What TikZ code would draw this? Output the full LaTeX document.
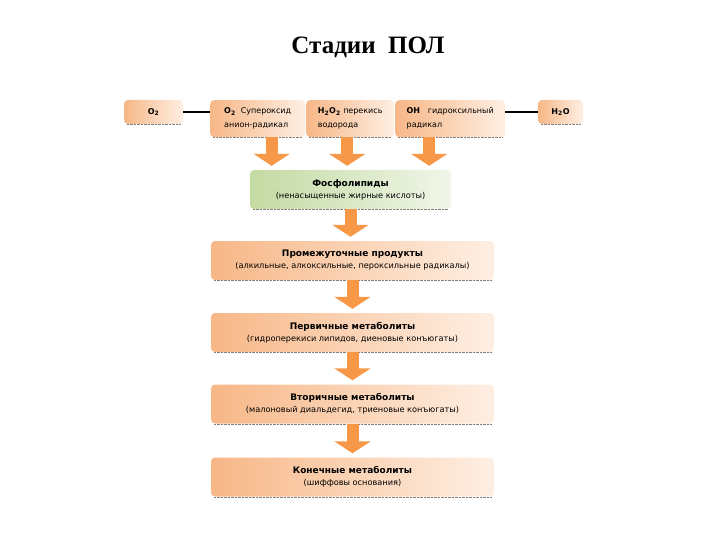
\documentclass[tikz,border=0pt]{standalone}
\usepackage{fontspec}
\setmainfont{Liberation Serif}
\newfontfamily\boxfont{DejaVu Sans}
\usetikzlibrary{arrows.meta}

\definecolor{peach}{RGB}{247,183,135}
\definecolor{peachlight}{RGB}{254,239,227}
\definecolor{sage}{RGB}{196,218,163}
\definecolor{sagelight}{RGB}{240,246,232}
\definecolor{arroworange}{RGB}{246,152,72}

\begin{document}
\begin{tikzpicture}[x=1pt, y=-1pt,
    stage/.style = {rounded corners=4pt, left color=peach, right color=peachlight,
        minimum width=283pt, minimum height=39pt, align=center, inner sep=2pt,
        font=\boxfont\fontsize{8.2}{10}\selectfont},
    agent/.style = {rounded corners=4pt, left color=peach, right color=peachlight,
        minimum height=37pt, align=left, inner sep=3pt, anchor=north west,
        font=\boxfont\fontsize{8}{14}\selectfont},
    blockarrow/.style = {draw=arroworange, line width=12pt,
        -{Triangle[width=36pt, length=12pt]}, shorten >=4pt}
]
    \useasboundingbox (0, 0) rectangle (720, 540);
    \node (title) at (368, 47) {\fontsize{25}{28}\selectfont\bfseries Стадии\ \ ПОЛ};

    % top row: reactive oxygen species
    \node[agent, minimum width=59pt, minimum height=24pt, align=center, anchor=center] (o2) at (153.5, 112) {\textbf{O\textsubscript{2}}};
    \node[agent, minimum width=95pt] (sup) at (210, 100) {\textbf{O\textsubscript{2}}\ \ Супероксид\\анион-радикал};
    \node[agent, minimum width=88pt] (per) at (306, 100) {\textbf{H\textsubscript{2}O\textsubscript{2}} перекись\\водорода};
    \node[agent, minimum width=110pt] (hyd) at (395, 100) {\textbf{OH}\ \ \ гидроксильный\\радикал};
    \node[agent, minimum width=45pt, minimum height=24pt, align=center, anchor=center] (h2o) at (560.5, 112) {\textbf{H\textsubscript{2}O}};
    \draw[line width=1.3pt] (o2.east) -- (o2.east -| sup.west);
    \draw[line width=1.3pt] (hyd.east |- h2o.west) -- (h2o.west);

    % stages
    \node[stage, minimum width=201pt, left color=sage, right color=sagelight] (phos) at (350.5, 189.5)
        {{\bfseries\fontsize{9}{12}\selectfont Фосфолипиды}\\[2pt](ненасыщенные жирные кислоты)};
    \node[stage] (inter) at (352.5, 260.5)
        {{\bfseries\fontsize{9}{12}\selectfont Промежуточные продукты}\\[2pt](алкильные, алкоксильные, пероксильные радикалы)};
    \node[stage] (prim) at (352.5, 332.5)
        {{\bfseries\fontsize{9}{12}\selectfont Первичные метаболиты}\\[2pt](гидроперекиси липидов, диеновые конъюгаты)};
    \node[stage] (sec) at (352.5, 404)
        {{\bfseries\fontsize{9}{12}\selectfont Вторичные метаболиты}\\[2pt](малоновый диальдегид, триеновые конъюгаты)};
    \node[stage] (fin) at (352.5, 477)
        {{\bfseries\fontsize{9}{12}\selectfont Конечные метаболиты}\\[2pt](шиффовы основания)};

    \foreach \n in {o2, sup, per, hyd, h2o, phos, inter, prim, sec, fin}
        \draw[densely dotted, black!50] ([xshift=3pt]\n.south west) -- ([xshift=-3pt]\n.south east);

    % arrows
    \draw[blockarrow] ([xshift=14pt]sup.south) -- ([xshift=14pt]sup.south |- phos.north);
    \draw[blockarrow] ([xshift=-3pt]per.south) -- ([xshift=-3pt]per.south |- phos.north);
    \draw[blockarrow] ([xshift=-21pt]hyd.south) -- ([xshift=-21pt]hyd.south |- phos.north);
    \draw[blockarrow] (phos.south) -- (phos.south |- inter.north);
    \draw[blockarrow] (inter.south) -- (prim.north);
    \draw[blockarrow] (prim.south) -- (sec.north);
    \draw[blockarrow] (sec.south) -- (fin.north);
\end{tikzpicture}
\end{document}
